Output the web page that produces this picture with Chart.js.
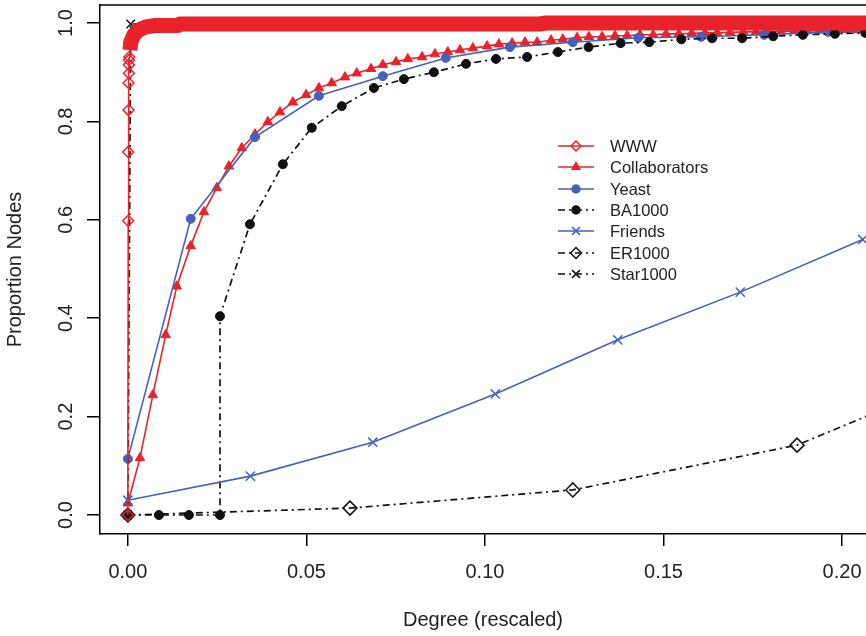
<!DOCTYPE html>
<html>
<head>
<meta charset="utf-8">
<script src="https://cdn.jsdelivr.net/npm/chart.js@4.4.0/dist/chart.umd.min.js"></script>
<style>
body { margin:0; background:#fff; }
canvas { display:block; }
</style>
</head>
<body>
<canvas id="cdfChart" width="866" height="636"></canvas>
<script>
// cumulative degree distributions

const xTicks = [0, 0.05, 0.10, 0.15, 0.20];
const yTicks = [0, 0.2, 0.4, 0.6, 0.8, 1.0];

const wwwX = [0, 0.0001, 0.0001, 0.0002, 0.0002, 0.0003, 0.0003, 0.0003, 0.0004,
    0.0006, 0.0008, 0.0017, 0.0031, 0.0050, 0.0078, 0.0140, 0.0146, 0.1154, 0.1170, 1.0];
const wwwY = [0, 0.598, 0.738, 0.823, 0.878, 0.898, 0.915, 0.925, 0.931,
    0.945, 0.961, 0.976, 0.986, 0.992, 0.995, 0.995, 0.998, 0.998, 1.0, 1.0];

const collabX = [0, 0.0034, 0.0070, 0.0106, 0.0137, 0.0176, 0.0213, 0.0249, 0.0283, 0.0319,
    0.0356, 0.0392, 0.0426, 0.0462, 0.0499, 0.0535, 0.0571, 0.0608, 0.0641, 0.0681,
    0.0714, 0.0751, 0.0784, 0.0824, 0.0860, 0.0896, 0.0930, 0.0966, 0.1006, 0.1039,
    0.1076, 0.1112, 0.1146, 0.1185, 0.1218, 0.1258, 0.1291, 0.1328, 0.1364, 0.1398,
    0.1434, 0.1471, 0.1507, 0.1543, 0.1579, 0.1616, 0.1650, 0.1686, 0.1723, 0.1759,
    0.1793, 0.1829, 0.1866, 0.1902, 0.1936, 0.1972, 0.2008, 0.2045, 0.2081];
const collabY = [0.024, 0.116, 0.244, 0.366, 0.465, 0.547, 0.616, 0.665, 0.709, 0.746,
    0.774, 0.799, 0.819, 0.839, 0.854, 0.868, 0.878, 0.890, 0.898, 0.907,
    0.915, 0.921, 0.927, 0.931, 0.937, 0.941, 0.945, 0.949, 0.953, 0.957,
    0.959, 0.961, 0.961, 0.965, 0.967, 0.970, 0.972, 0.972, 0.974, 0.974,
    0.976, 0.976, 0.978, 0.978, 0.979, 0.980, 0.980, 0.981, 0.982, 0.982,
    0.983, 0.983, 0.984, 0.984, 0.985, 0.985, 0.986, 0.986, 0.987];

const yeastX = [0, 0.0176, 0.0356, 0.0535, 0.0714, 0.0890, 0.1070, 0.1246, 0.1429, 0.1605, 0.1782, 0.1961, 0.2140];
const yeastY = [0.114, 0.602, 0.768, 0.852, 0.892, 0.929, 0.951, 0.961, 0.970, 0.972, 0.976, 0.982, 0.984];

const baX = [0, 0.0087, 0.0171, 0.0258, 0.0258, 0.0342, 0.0434, 0.0515, 0.0599, 0.0689,
    0.0773, 0.0857, 0.0947, 0.1031, 0.1118, 0.1204, 0.1290, 0.1380, 0.1460, 0.1550,
    0.1636, 0.1720, 0.1807, 0.1890, 0.1980, 0.2065];
const baY = [0, 0, 0, 0, 0.404, 0.591, 0.713, 0.787, 0.831, 0.868,
    0.886, 0.900, 0.917, 0.927, 0.931, 0.941, 0.951, 0.959, 0.961, 0.967,
    0.969, 0.969, 0.973, 0.976, 0.978, 0.980];

const friendsX = [0, 0.0343, 0.0686, 0.1029, 0.1372, 0.1715, 0.2058];
const friendsY = [0.030, 0.079, 0.148, 0.246, 0.356, 0.453, 0.560];

const erX = [0, 0.0622, 0.1246, 0.1874, 0.2496];
const erY = [0, 0.014, 0.051, 0.142, 0.330];

const starX = [0, 0.0008, 1.0];
const starY = [0, 0.998, 1.0];

const RED = "#e8232b";
const BLUE = "#4562b8";
const BLACK = "#111111";
const NONE = "rgba(0,0,0,0)";
const DOTDASH = [7, 4, 2, 4];
const FONT = "'Liberation Sans', Arial, sans-serif";

function pts(xs, ys) {
    return xs.map((x, i) => ({x: x, y: ys[i]}));
}

const frame = {
    id: "frame",
    afterDraw(chart) {
        const c = chart.ctx;
        const a = chart.chartArea;
        c.save();
        c.strokeStyle = "#000";
        c.lineWidth = 1.5;
        c.beginPath();
        c.moveTo(a.left, a.top);
        c.lineTo(chart.width + 2, a.top);
        c.stroke();

        // y tick labels, rotated like base R
        const ys = chart.scales.y;
        c.fillStyle = "#222";
        c.font = "20px " + FONT;
        c.textAlign = "center";
        c.textBaseline = "alphabetic";
        yTicks.forEach(v => {
            c.save();
            c.translate(72, ys.getPixelForValue(v));
            c.rotate(-Math.PI / 2);
            c.fillText(v.toFixed(1), 0, 0);
            c.restore();
        });

        // legend
        const rows = [146, 167, 189, 210, 231, 253, 274];
        chart.data.datasets.forEach((ds, i) => {
            const y = rows[i];
            c.save();
            c.strokeStyle = ds.borderColor;
            c.lineWidth = 1.6;
            c.setLineDash(ds.borderDash || []);
            c.beginPath();
            c.moveTo(558, y);
            c.lineTo(594, y);
            c.stroke();
            c.setLineDash([]);
            c.fillStyle = ds.pointBackgroundColor;
            c.strokeStyle = ds.pointBorderColor;
            c.lineWidth = 1.5;
            Chart.helpers.drawPoint(c, {pointStyle: ds.pointStyle, radius: ds.legendRadius, borderWidth: 1.5, rotation: 0}, 576, y);
            c.restore();
            c.fillStyle = "#222";
            c.font = "16.5px " + FONT;
            c.textAlign = "left";
            c.textBaseline = "middle";
            c.fillText(ds.label, 610, y + 1);
        });
        c.restore();
    }
};

new Chart(
document.getElementById("cdfChart"),
{
    type: "line",
    data: {
        datasets: [
            {
                label: "WWW",
                data: pts(wwwX, wwwY),
                borderColor: RED,
                borderWidth: 1.6,
                borderJoinStyle: "round",
                pointStyle: "rectRot",
                pointRadius: ctx => (ctx.raw && ctx.raw.y < 0.94 ? 5.5 : 0),
                pointBackgroundColor: NONE,
                pointBorderColor: RED,
                pointBorderWidth: 1.5,
                legendRadius: 5,
                segment: {
                    borderWidth: ctx => (ctx.p0.parsed.y >= 0.94 ? 15 : 1.6)
                },
                order: 0
            },
            {
                label: "Collaborators",
                data: pts(collabX, collabY),
                borderColor: RED,
                borderWidth: 1.6,
                pointStyle: "triangle",
                pointRadius: 5.5,
                pointBackgroundColor: RED,
                pointBorderColor: RED,
                pointBorderWidth: 1,
                legendRadius: 4.5,
                order: 6
            },
            {
                label: "Yeast",
                data: pts(yeastX, yeastY),
                borderColor: BLUE,
                borderWidth: 1.6,
                pointStyle: "circle",
                pointRadius: 4.5,
                pointBackgroundColor: BLUE,
                pointBorderColor: BLUE,
                pointBorderWidth: 1,
                legendRadius: 4,
                order: 5
            },
            {
                label: "BA1000",
                data: pts(baX, baY),
                borderColor: BLACK,
                borderWidth: 1.7,
                borderDash: DOTDASH,
                pointStyle: "circle",
                pointRadius: 4.5,
                pointBackgroundColor: BLACK,
                pointBorderColor: BLACK,
                pointBorderWidth: 1,
                legendRadius: 4,
                order: 4
            },
            {
                label: "Friends",
                data: pts(friendsX, friendsY),
                borderColor: BLUE,
                borderWidth: 1.6,
                pointStyle: "crossRot",
                pointRadius: 6.5,
                pointBackgroundColor: BLUE,
                pointBorderColor: BLUE,
                pointBorderWidth: 1.5,
                legendRadius: 5.5,
                order: 3
            },
            {
                label: "ER1000",
                data: pts(erX, erY),
                borderColor: BLACK,
                borderWidth: 1.7,
                borderDash: DOTDASH,
                pointStyle: "rectRot",
                pointRadius: 7,
                pointBackgroundColor: NONE,
                pointBorderColor: BLACK,
                pointBorderWidth: 1.5,
                legendRadius: 5.5,
                order: 2
            },
            {
                label: "Star1000",
                data: pts(starX, starY),
                borderColor: BLACK,
                borderWidth: 1.7,
                borderDash: DOTDASH,
                pointStyle: "crossRot",
                pointRadius: 6,
                pointBackgroundColor: BLACK,
                pointBorderColor: BLACK,
                pointBorderWidth: 1.5,
                legendRadius: 5.5,
                order: 1
            }
        ]
    },
    options: {
        responsive: false,
        animation: false,
        layout: {autoPadding: false, padding: {top: 5, left: 0, right: 0, bottom: 0}},
        plugins: {
            legend: {display: false},
            tooltip: {enabled: false}
        },
        scales: {
            x: {
                type: "linear",
                min: -0.0078,
                max: 0.2067,
                afterBuildTicks: s => { s.ticks = xTicks.map(v => ({value: v})); },
                afterFit: s => { s.height = 102; s.paddingLeft = 0; s.paddingRight = 0; },
                grid: {drawOnChartArea: false, drawTicks: true, tickLength: 12, color: "#000", lineWidth: 1.5},
                border: {display: true, color: "#000", width: 1.5},
                ticks: {
                    autoSkip: false,
                    maxRotation: 0,
                    padding: 14,
                    color: "#222",
                    font: {size: 20, family: FONT},
                    callback: v => v.toFixed(2)
                },
                title: {
                    display: true,
                    text: "Degree (rescaled)",
                    color: "#222",
                    font: {size: 20, family: FONT},
                    padding: {top: 0, bottom: 4}
                }
            },
            y: {
                type: "linear",
                min: -0.0386,
                max: 1.0366,
                afterBuildTicks: s => { s.ticks = yTicks.map(v => ({value: v})); },
                afterFit: s => { s.width = 100; s.paddingTop = 0; s.paddingBottom = 0; },
                grid: {drawOnChartArea: false, drawTicks: true, tickLength: 13, color: "#000", lineWidth: 1.5},
                border: {display: true, color: "#000", width: 1.5},
                ticks: {display: false},
                title: {
                    display: true,
                    text: "Proportion Nodes",
                    color: "#222",
                    font: {size: 20, family: FONT},
                    padding: {top: 3, bottom: 0}
                }
            }
        }
    },
    plugins: [frame]
});
</script>
</body>
</html>
